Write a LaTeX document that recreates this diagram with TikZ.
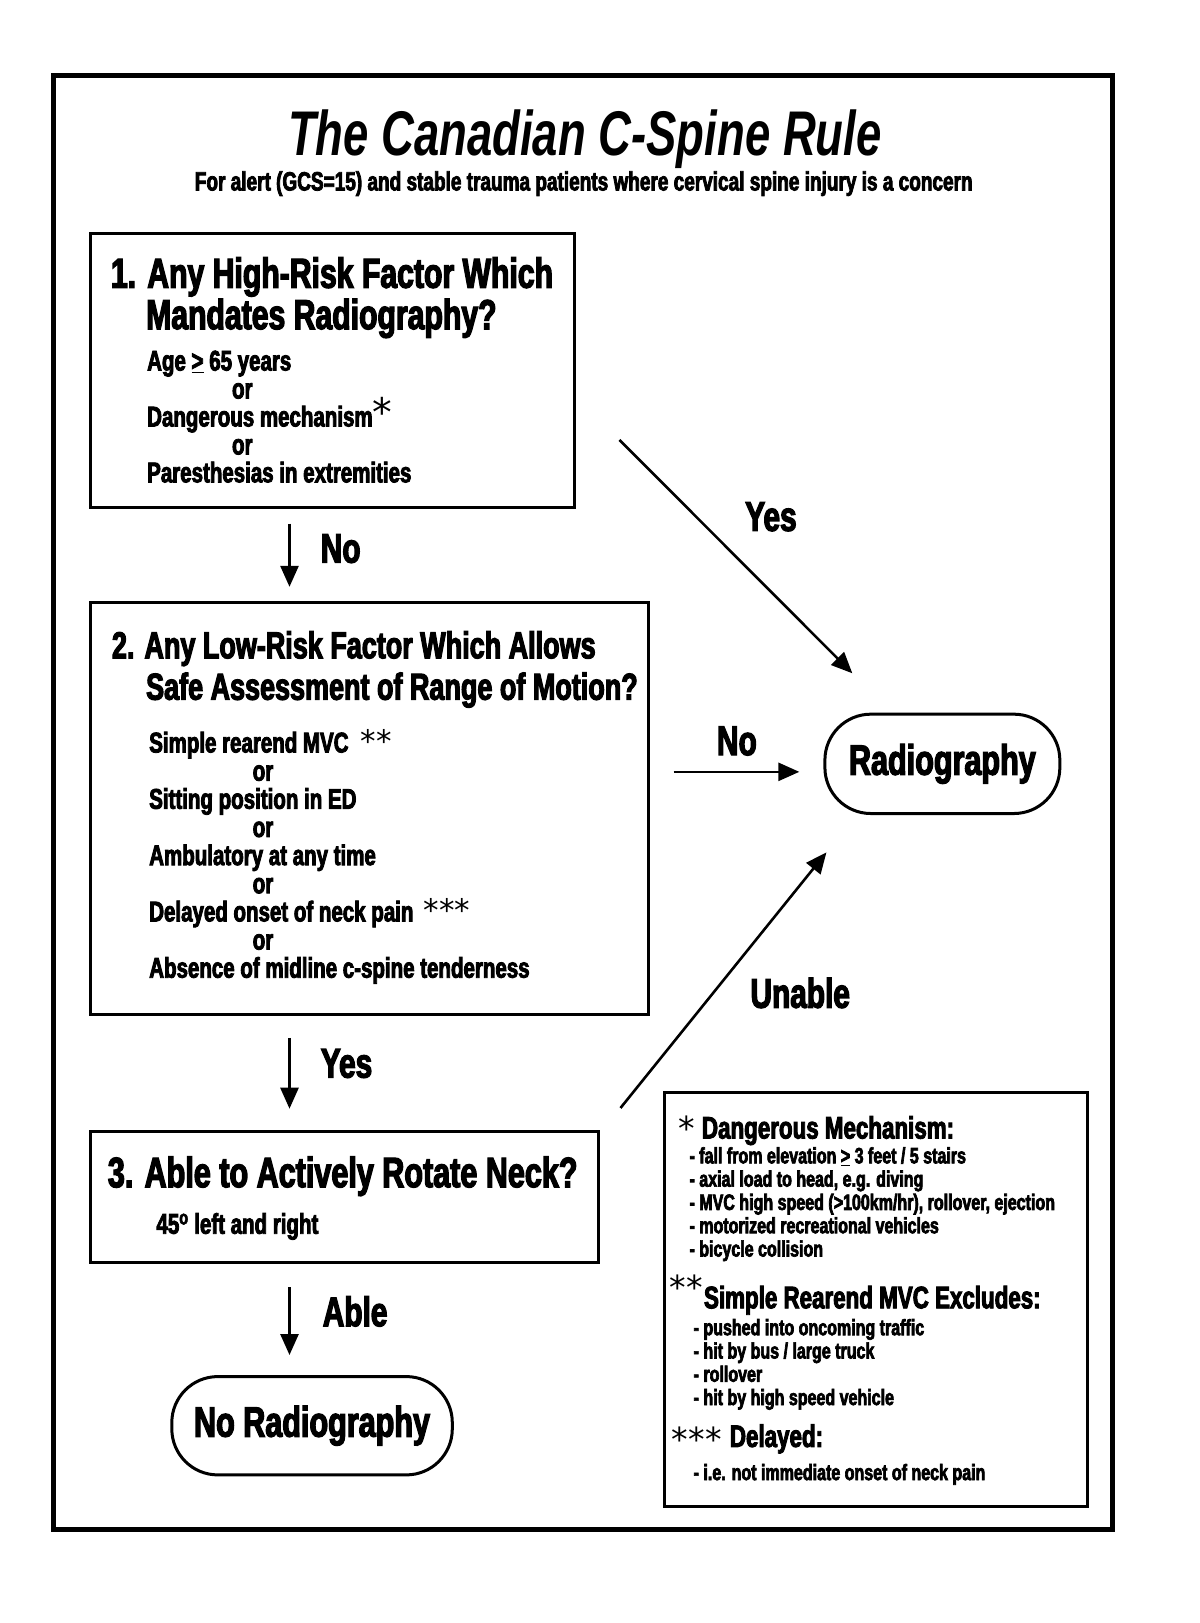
\documentclass[tikz,border=0pt]{standalone}
\usepackage{fontspec}
\setmainfont{Liberation Sans}[FakeStretch=0.72, BoldFeatures={FakeBold=3}]
\newfontfamily\starfont{DejaVu Sans}
\usepackage{tikz}
\usetikzlibrary{arrows.meta}
\usetikzlibrary{positioning}
\newcommand{\orline}[1]{\hspace*{#1}or}
\newcommand{\stars}[2]{{\starfont\mdseries\fontsize{#1}{#1}\selectfont #2}}

\begin{document}
\begin{tikzpicture}[x=1.035pt,y=-1.035pt,
  every node/.append style={scale=1.035},
  qbox/.style={draw, line width=3pt, inner sep=0},
  endbox/.style={draw, line width=3pt, rounded corners=46pt, inner sep=0,
    font=\fontsize{41}{41}\selectfont\bfseries},
  head/.style={anchor=base west, inner sep=0, font=\fontsize{#1}{#1}\selectfont\bfseries},
  body/.style={anchor=base west, inner sep=0, font=\fontsize{27.5}{27.5}\selectfont\bfseries},
  notehead/.style={anchor=base west, inner sep=0, font=\fontsize{30}{30}\selectfont\bfseries},
  note/.style={anchor=base west, inner sep=0, font=\fontsize{21.5}{21.5}\selectfont\bfseries},
  lbl/.style={inner sep=0, font=\fontsize{40}{40}\selectfont\bfseries},
  arr/.style={line width=2.6pt, -{Triangle[length=21pt,width=18pt]}}]
  \useasboundingbox (0,0) rectangle (1159.4,1568.1);
  \draw[line width=5pt] (52,73) rectangle (1075,1478);

  % title
  \node[inner sep=0, anchor=base, font=\fontsize{61}{61}\selectfont\bfseries\itshape]
    (title) at (565,150) {The Canadian C-Spine Rule};
  \node[inner sep=0, anchor=base, font=\fontsize{25.5}{25.5}\selectfont\bfseries]
    (subtitle) at (564,184) {For alert (GCS=15) and stable trauma patients where cervical spine injury is a concern};

  % boxes
  \node[qbox, minimum width=468, minimum height=264] (q1) at (321,358) {};
  \node[qbox, minimum width=540, minimum height=398] (q2) at (357,781) {};
  \node[qbox, minimum width=491, minimum height=127] (q3) at (332.5,1156.5) {};
  \node[qbox, minimum width=409, minimum height=400] (notes) at (846.5,1256) {};
  \node[endbox, minimum width=227, minimum height=96] (radio) at (910.5,738) {Radiography};
  \node[endbox, minimum width=271, minimum height=95] (noradio) at (301.5,1377.5) {No Radiography};

  % step 1
  \node[head=40.5] (h1a) at (107,278) {1. Any High-Risk Factor Which};
  \node[head=40.5] (h1b) at (141,318) {Mandates Radiography?};
  \foreach \t [count=\i from 0] in {{Age \underline{>} 65 years}, \orline{82pt},
      {Dangerous mechanism\stars{38}{*}}, \orline{82pt}, Paresthesias in extremities}
    \node[body] (r1-\i) at (142,358+27*\i) {\t};

  % step 2
  \node[head=36.2] (h2a) at (108,636) {2. Any Low-Risk Factor Which Allows};
  \node[head=36.2] (h2b) at (141,676) {Safe Assessment of Range of Motion?};
  \foreach \t [count=\i from 0] in {{Simple rearend MVC\hspace{12pt}\stars{30}{**}},
      \orline{100pt}, Sitting position in ED, \orline{100pt}, Ambulatory at any time, \orline{100pt},
      {Delayed onset of neck pain\hspace{10pt}\stars{30}{***}}, \orline{100pt},
      Absence of midline c-spine tenderness}
    \node[body] (r2-\i) at (144,727+27.2*\i) {\t};

  % step 3
  \node[head=41] (h3) at (104,1147) {3. Able to Actively Rotate Neck?};
  \node[body] (r3) at (151,1192) {45\textsuperscript{o} left and right};

  % footnotes
  \node[notehead] (s1) at (655,1102) {\stars{32}{*}};
  \node[notehead] (n1) at (678,1100) {Dangerous Mechanism:};
  \foreach \t [count=\i from 0] in {{- fall from elevation \underline{>} 3 feet / 5 stairs},
      {- axial load to head, e.g. diving}, {- MVC high speed (>100km/hr), rollover, ejection},
      - motorized recreational vehicles, - bicycle collision}
    \node[note] (d1-\i) at (666,1124+22.5*\i) {\t};
  \node[notehead] (s2) at (647,1256) {\stars{32}{**}};
  \node[notehead] (n2) at (680,1264) {Simple Rearend MVC Excludes:};
  \foreach \t [count=\i from 0] in {- pushed into oncoming traffic, - hit by bus / large truck,
      - rollover, - hit by high speed vehicle}
    \node[note] (d2-\i) at (670,1290+22.5*\i) {\t};
  \node[notehead] (s3) at (649,1402) {\stars{32}{***}};
  \node[notehead] (n3) at (705,1398) {Delayed:};
  \node[note] (d3) at (670,1430) {- i.e. not immediate onset of neck pain};

  % connectors
  \coordinate (yesfrom) at ([shift={(42,67)}]q1.east);
  \coordinate (yesto) at ([shift={(28,-38)}]radio.north west);
  \coordinate (nohit) at ([yshift=-8]radio.west);
  \coordinate (unablefrom) at ([shift={(20,-21)}]q3.north east);
  \coordinate (unableto) at ([shift={(3,36)}]radio.south west);
  \path[arr]
    ([xshift=201]q1.south west) edge[shorten <=15, shorten >=14] node[lbl, right=30pt, yshift=6] {No} ([xshift=201]q2.north west)
    ([xshift=201]q2.south west) edge[shorten <=22, shorten >=21] node[lbl, right=30pt, yshift=9] {Yes} ([xshift=201]q3.north west)
    ([xshift=201]q3.south west) edge[shorten <=23, shorten >=20] node[lbl, right=32pt, yshift=8] {Able} ([xshift=201]q3.south west |- noradio.north)
    (q2.east |- nohit) edge[shorten <=23, shorten >=24] node[lbl, above=15pt] {No} (nohit)
    (yesfrom) edge node[lbl, pos=0.5, above right=24pt and 8pt] {Yes} (yesto)
    (unablefrom) edge node[lbl, pos=0.45, right=36pt] {Unable} (unableto);
\end{tikzpicture}
\end{document}
